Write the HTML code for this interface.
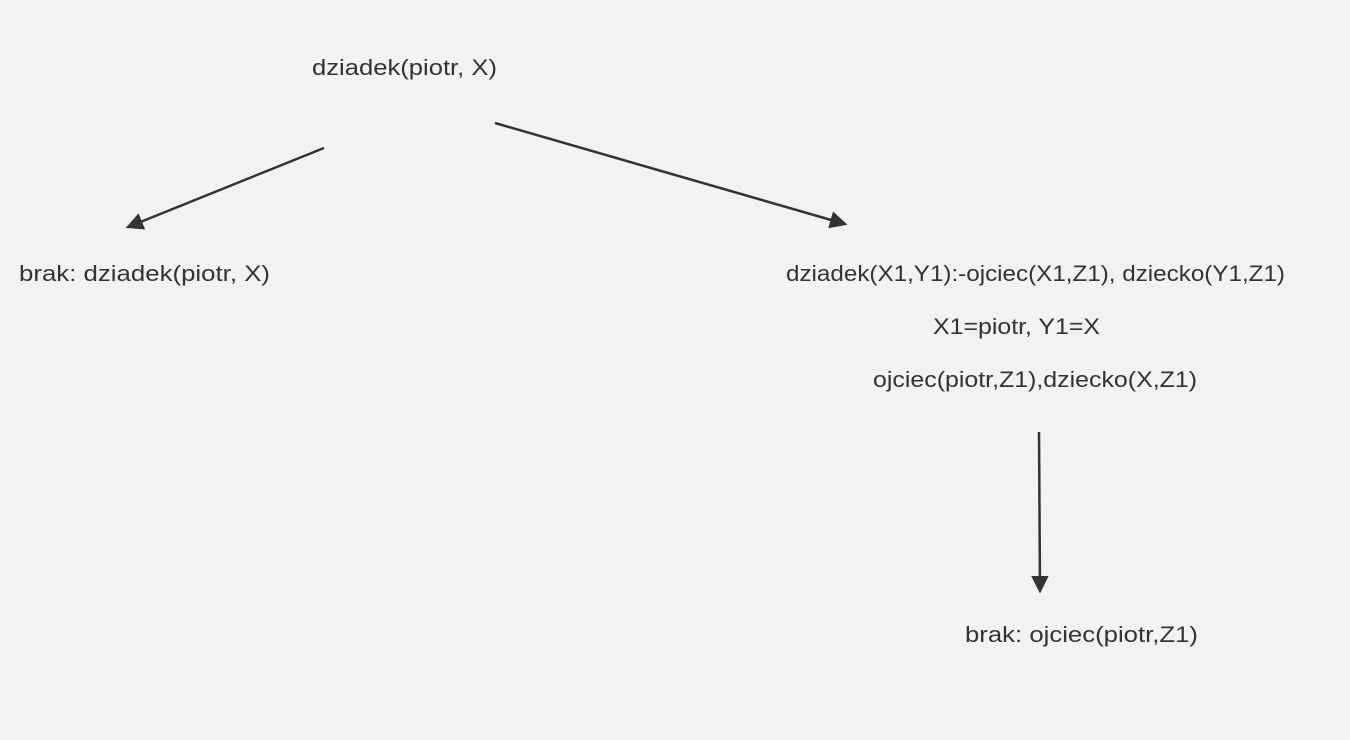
<!DOCTYPE html>
<html><head><meta charset="utf-8"><style>
html,body{margin:0;padding:0;background:#f2f2f2;}
svg{display:block;}
text{font-family:"Liberation Sans","DejaVu Sans",sans-serif;font-size:22px;fill:#333;}
</style></head><body>
<svg width="1350" height="740" viewBox="0 0 1350 740" xmlns="http://www.w3.org/2000/svg">
<rect width="1350" height="740" fill="#f2f2f2"/>
<defs>
<marker id="a" markerWidth="8" markerHeight="8" refX="6" refY="4" orient="auto" markerUnits="strokeWidth">
<path d="M0,0.5 L7,4 L0,7.5 Z" fill="#333"/>
</marker>
</defs>
<g stroke="#333" stroke-width="2.5" fill="none">
<line x1="324" y1="148" x2="128" y2="227" marker-end="url(#a)"/>
<line x1="495" y1="123" x2="845" y2="224" marker-end="url(#a)"/>
<line x1="1039" y1="432" x2="1040" y2="591" marker-end="url(#a)"/>
</g>
<text x="312" y="75" textLength="185" lengthAdjust="spacingAndGlyphs">dziadek(piotr, X)</text>
<text x="19" y="281" textLength="251" lengthAdjust="spacingAndGlyphs">brak: dziadek(piotr, X)</text>
<text x="786" y="281" textLength="499" lengthAdjust="spacingAndGlyphs">dziadek(X1,Y1):-ojciec(X1,Z1), dziecko(Y1,Z1)</text>
<text x="933" y="334" textLength="167" lengthAdjust="spacingAndGlyphs">X1=piotr, Y1=X</text>
<text x="873" y="387" textLength="324" lengthAdjust="spacingAndGlyphs">ojciec(piotr,Z1),dziecko(X,Z1)</text>
<text x="965" y="642" textLength="233" lengthAdjust="spacingAndGlyphs">brak: ojciec(piotr,Z1)</text>
</svg>
</body></html>
